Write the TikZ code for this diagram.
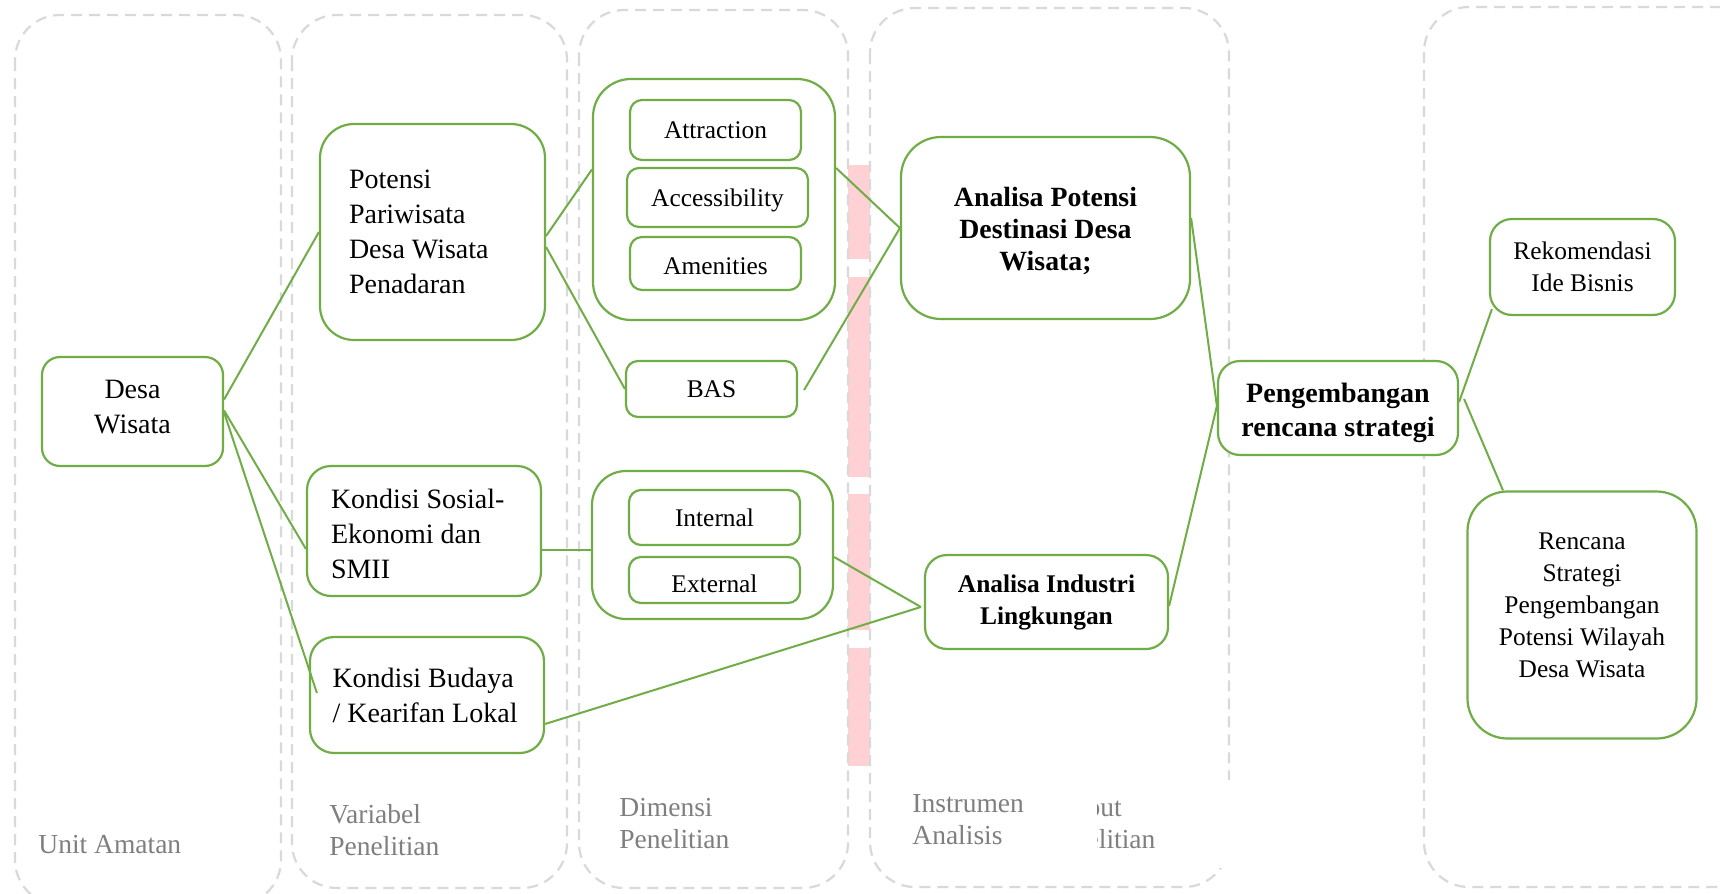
\documentclass[tikz,border=0pt]{standalone}
\usepackage{fontspec}
\setmainfont{Liberation Serif}
\usetikzlibrary{calc}
\definecolor{grn}{RGB}{112,173,71}
\definecolor{lanegray}{RGB}{217,217,217}
\definecolor{lblgray}{RGB}{127,127,127}
\definecolor{pinkstrip}{RGB}{255,208,212}
\begin{document}
\begin{tikzpicture}[x=0.5pt,y=-0.5pt,
  lane/.style={draw=lanegray, line width=1.1pt, dash pattern=on 5.5pt off 3.5pt, rounded corners=22.5pt},
  box/.style={draw=grn, line width=1.1pt, fill=white, inner sep=0pt, align=center},
  conn/.style={draw=grn, line width=1pt},
  lbl/.style={text=lblgray, anchor=west, align=left, inner sep=0pt, font=\fontsize{13.75}{16}\selectfont},
  fbig/.style={font=\fontsize{14}{17.5}\selectfont},
  fdim/.style={font=\fontsize{12.7}{15}\selectfont},
  fsmall/.style={font=\fontsize{12.7}{16}\selectfont},
  fbold/.style={font=\fontsize{13.9}{16}\selectfont\bfseries},
  fboldi/.style={font=\fontsize{12.7}{16}\selectfont\bfseries},
  fboldb/.style={font=\fontsize{14}{17}\selectfont\bfseries}
]
\useasboundingbox (0,0) rectangle (1720,894);
\clip (0,0) rectangle (1720,894);
\fill[white] (0,0) rectangle (1720,894);

% pink strip
\fill[pinkstrip] (848,165) rectangle (870,259);
\fill[pinkstrip] (848,277) rectangle (870,477);
\fill[pinkstrip] (848,494) rectangle (870,630);
\fill[pinkstrip] (848,648) rectangle (870,766);

% lanes
\draw[lane] (15,15) rectangle (281,905);
\draw[lane] (292,15) rectangle (567,888);
\draw[lane] (579,10) rectangle (848,888);
\draw[lane] (870,8) rectangle (1229,887);
\draw[lane] (1424,7) rectangle (1770,887);

% lane labels
\node[lbl] (lunit) at (38,845) {Unit Amatan};
\node[lbl] (lvar) at (329,830) {Variabel\\Penelitian};
\node[lbl] (ldim) at (619,824) {Dimensi\\Penelitian};
\fill[white] (1040,780) rectangle (1240,868);
\node[lbl] (lout) at (1045,824) {Output\\Penelitian};
\fill[white] (905,790) rectangle (1097,862);
\node[lbl] (lins) at (912,820) {Instrumen\\Analisis};

% nodes
\node[box, rounded corners=9pt, minimum width=90.5pt, minimum height=54.5pt,
  label={[fbig, align=center, inner sep=0pt, yshift=2.2pt]center:{Desa\\Wisata}}] (desa) at (132.5,411.5) {};
\node[box, fbig, rounded corners=17pt, minimum width=112.5pt, minimum height=108pt, text width=83.5pt, align=flush left] (potensi) at (432.5,232) {Potensi\\Pariwisata\\Desa Wisata\\Penadaran};
\node[box, rounded corners=12pt, minimum width=117pt, minimum height=65pt,
  label={[fbig, text width=93pt, align=flush left, inner sep=0pt, yshift=-1.6pt]center:{Kondisi Sosial-\\Ekonomi dan\\SMII}}] (sosial) at (424,531) {};
\node[box, fbig, rounded corners=12pt, minimum width=117pt, minimum height=58pt, text width=94.5pt, align=flush left] (budaya) at (427,695) {Kondisi Budaya\\/ Kearifan Lokal};

\node[box, rounded corners=19pt, minimum width=121pt, minimum height=120.5pt] (g1) at (714,199.5) {};
\node[box, fdim, rounded corners=6pt, minimum width=85.5pt, minimum height=30pt] (attr) at (715.5,130) {Attraction};
\node[box, fdim, rounded corners=6pt, minimum width=90.5pt, minimum height=29.5pt, text height=11.6pt] (acc) at (717.5,197.5) {Accessibility};
\node[box, fdim, rounded corners=6pt, minimum width=85.5pt, minimum height=26.5pt, text height=10.8pt] (amen) at (715.5,263.5) {Amenities};
\node[box, fdim, rounded corners=6pt, minimum width=85.5pt, minimum height=28pt] (bas) at (711.5,389) {BAS};

\node[box, rounded corners=17pt, minimum width=120.5pt, minimum height=74pt] (g2) at (712.5,545) {};
\node[box, fdim, rounded corners=6pt, minimum width=85.5pt, minimum height=27.5pt] (internal) at (714.5,517.5) {Internal};
\node[box, fdim, rounded corners=6pt, minimum width=85.5pt, minimum height=23pt, text height=13pt] (external) at (714.5,580) {External};

\node[box, rounded corners=20pt, minimum width=144.5pt, minimum height=91pt,
  label={[fbold, align=center, inner sep=0pt, yshift=-1.6pt]center:{Analisa Potensi\\Destinasi Desa\\Wisata;}}] (apot) at (1045.5,228) {};
\node[box, fboldi, rounded corners=11pt, minimum width=121.5pt, minimum height=47pt] (aind) at (1046.5,602) {Analisa Industri\\Lingkungan};
\node[box, rounded corners=11pt, minimum width=120pt, minimum height=47pt,
  label={[fboldb, align=center, inner sep=0pt, yshift=-2.2pt]center:{Pengembangan\\rencana strategi}}] (peng) at (1338,408) {};
\node[box, fsmall, rounded corners=11pt, minimum width=92.5pt, minimum height=48pt] (rek) at (1582.5,267) {Rekomendasi\\Ide Bisnis};
\node[box, rounded corners=20pt, minimum width=114.5pt, minimum height=123.5pt,
  label={[fsmall, align=center, inner sep=0pt, yshift=5pt]center:{Rencana\\Strategi\\Pengembangan\\Potensi Wilayah\\Desa Wisata}}] (renc) at (1582,615) {};

% connectors
\draw[conn] ($(desa.east)+(0,-12)$) -- (potensi.west);
\draw[conn] ($(desa.east)+(0,-1)$) -- ($(sosial.west)+(0,18)$);
\draw[conn] ($(desa.east)+(0,1)$) -- ($(budaya.west)+(8,-2)$);
\draw[conn] ($(potensi.east)+(0,4)$) -- ($(g1.west)+(0,-30)$);
\draw[conn] ($(potensi.east)+(0,15)$) -- (bas.west);
\draw[conn] ($(sosial.east)+(0,19)$) -- ($(g2.west)+(0,5)$);
\draw[conn] ($(g1.east)+(0,-31.5)$) -- (apot.west);
\draw[conn] ($(bas.east)+(6,1)$) -- (apot.west);
\draw[conn] ($(g2.east)+(0,12)$) -- ($(aind.west)+(-3,5)$);
\draw[conn] ($(budaya.east)+(0,29)$) -- ($(aind.west)+(-3,5)$);
\draw[conn] ($(apot.east)+(0,-10)$) -- ($(peng.west)+(0,-2)$);
\draw[conn] ($(aind.east)+(0,4)$) -- ($(peng.west)+(0,-2)$);
\draw[conn] ($(peng.east)+(0,-6)$) -- ($(rek.south west)+(3,-7)$);
\draw[conn] ($(peng.east)+(5,-9)$) -- ($(renc.north)+(-79,0)$);
\end{tikzpicture}
\end{document}
